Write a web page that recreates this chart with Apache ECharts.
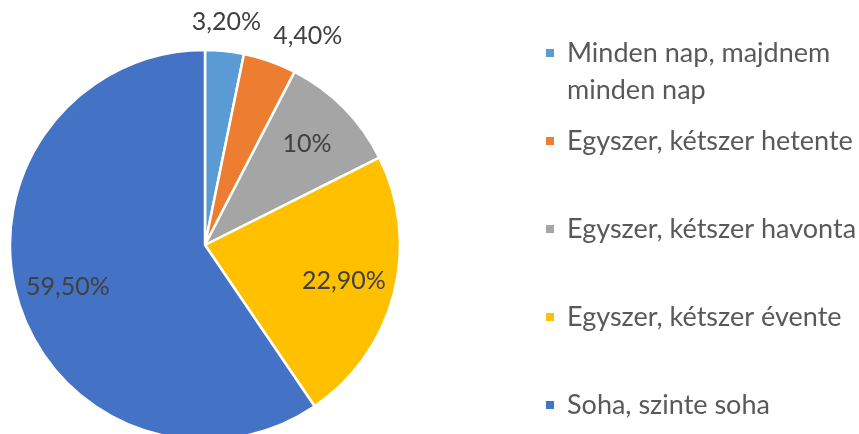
<!DOCTYPE html>
<html>
<head>
<meta charset="utf-8">
<script src="https://cdn.jsdelivr.net/npm/echarts@6/dist/echarts.min.js"></script>
<style>
  html, body { margin: 0; padding: 0; background: #ffffff; }
  #chart { width: 859px; height: 434px; }
</style>
</head>
<body>
<div id="chart"></div>
<script>
// Survey answer frequencies (percent)
const categories = [
  'Minden nap, majdnem\nminden nap',
  'Egyszer, kétszer hetente',
  'Egyszer, kétszer havonta',
  'Egyszer, kétszer évente',
  'Soha, szinte soha'
];
const values = [3.2, 4.4, 10, 22.9, 59.5];
const colors = ['#5B9BD5', '#ED7D31', '#A5A5A5', '#FFC000', '#4472C4'];

const FONT = 'Lato, "Noto Sans", sans-serif';
const TEXT_COLOR = '#404040';
const LEGEND_COLOR = '#595959';

// Thin slices: their value is pushed out past the rim
const labelShift = [
  [7, -80],
  [55, -74],
  null, null, null
];

function formatPct(v) {
  return (v % 1 === 0 ? String(v) : v.toFixed(2).replace('.', ',')) + '%';
}

const baseData = categories.map((name, i) => ({
  name: name,
  value: values[i],
  itemStyle: { color: colors[i] }
}));

const labelData = categories.map((name, i) => {
  const d = { name: name, value: values[i] };
  if (labelShift[i]) d.label = { offset: labelShift[i] };
  return d;
});

// One legend block per entry so the two-line entry keeps its marker on its first line
const legendCenters = [53, 141, 229, 317, 405];
const LINE_H = 37;
const legends = categories.map((name, i) => {
  const multi = name.indexOf('\n') >= 0;
  return {
    data: [name],
    orient: 'vertical',
    left: 544,
    // a blank first line keeps the marker level with the first visible line
    top: multi ? legendCenters[i] - LINE_H * 1.5 : legendCenters[i] - LINE_H / 2,
    padding: 0,
    itemWidth: 10,
    itemHeight: 10,
    icon: 'rect',
    selectedMode: false,
    formatter: n => (multi ? '\n' + n : n),
    textStyle: {
      fontFamily: FONT,
      fontSize: 27,
      color: LEGEND_COLOR,
      lineHeight: LINE_H,
      padding: [0, 0, 0, 7]
    }
  };
});

const chart = echarts.init(document.getElementById('chart'), null, { renderer: 'canvas' });
chart.setOption({
  animation: false,
  backgroundColor: '#ffffff',
  legend: legends,
  series: [
    {
      type: 'pie',
      center: [205, 245],
      radius: [0, 195],
      startAngle: 90,
      clockwise: true,
      silent: true,
      itemStyle: { borderColor: '#ffffff', borderWidth: 2.5 },
      label: { show: false },
      labelLine: { show: false },
      data: baseData
    },
    {
      // transparent ring that only carries the value labels
      type: 'pie',
      center: [205, 245],
      radius: [86, 195],
      startAngle: 90,
      clockwise: true,
      silent: true,
      itemStyle: { color: 'rgba(0,0,0,0)', borderWidth: 0 },
      label: {
        show: true,
        position: 'inside',
        fontFamily: FONT,
        fontSize: 25,
        color: TEXT_COLOR,
        formatter: p => formatPct(p.value)
      },
      labelLine: { show: false },
      labelLayout: { hideOverlap: false },
      data: labelData
    }
  ]
});
</script>
</body>
</html>
